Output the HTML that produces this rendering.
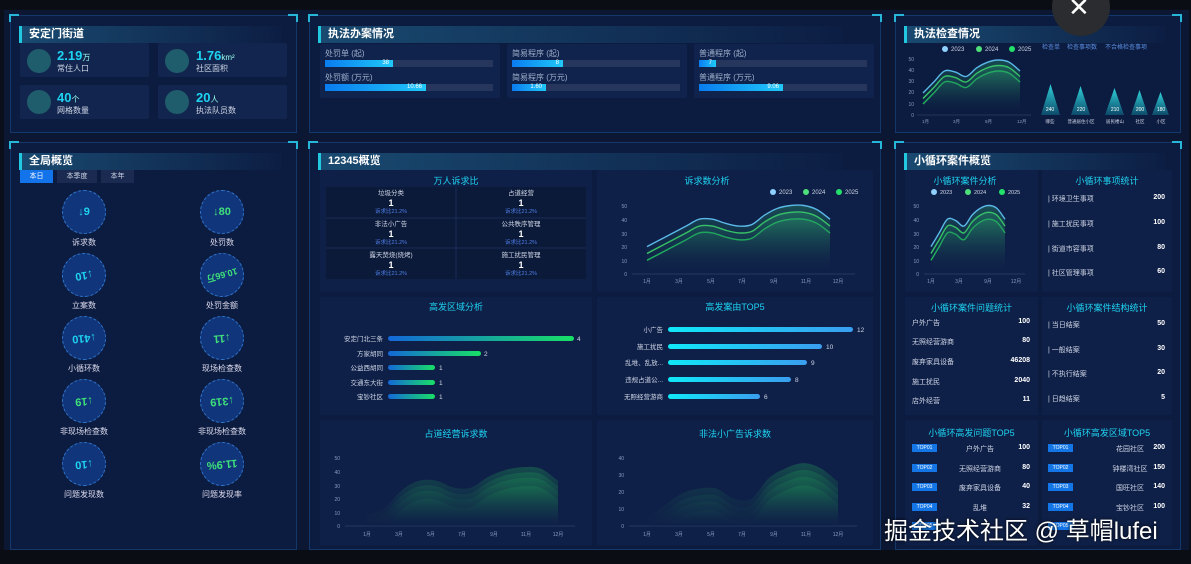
<!DOCTYPE html>
<html><head><meta charset="utf-8">
<style>
*{margin:0;padding:0;box-sizing:border-box}
body{width:1191px;height:564px;background:#0a0f1a;font-family:"Liberation Sans","Noto Sans CJK SC",sans-serif;color:#cfd8e8;position:relative;overflow:hidden;font-size:8px}
.abs{position:absolute}
.wrap{position:absolute;left:4px;top:10px;width:1185px;height:540px;background:#0b1733}
.panel{position:absolute;background:#0c1b40;border:1px solid #15386c}
.panel:before,.panel:after{content:"";position:absolute;top:-2px;width:8px;height:6px;border-top:2px solid #27b6d8}
.panel:before{left:-2px;border-left:2px solid #27b6d8}
.panel:after{right:-2px;border-right:2px solid #27b6d8}
.title{position:absolute;left:8px;top:10px;height:17px;width:92%;background:linear-gradient(90deg,rgba(38,120,160,.5),rgba(20,60,110,.08));border-left:3px solid #22c8e0;color:#fff;font-weight:bold;font-size:11px;line-height:17px;padding-left:7px}
.card{position:absolute;background:#12254e;border-radius:2px}
.sub{position:absolute;background:#0f2048}
.cir{position:absolute;border-radius:50%;background:#1f5d6c}
.val{position:absolute;color:#1ed3f2;font-weight:bold;font-size:13px}
.val small{font-size:8px;color:#9fe;font-weight:normal}
.lab{position:absolute;color:#cfd6e6;font-size:8px}
.track{position:absolute;height:7px;background:#26365c}
.fill{position:absolute;height:7px;background:linear-gradient(90deg,#0a7cf0,#20c8f8);color:#fff;font-size:6px;text-align:right;padding-right:4px;line-height:7px}
.st{position:absolute;color:#1ed3f2;font-size:9px;text-align:center}
.tab{position:absolute;top:170px;height:13px;font-size:7px;line-height:13px;text-align:center;color:#cfd6e6;background:#1a2a50}
.bub{position:absolute;width:44px;height:44px;border-radius:50%;background:#11357a;border:1px dashed #2f74c8;color:#1ed3f2;font-weight:bold;font-size:11px;text-align:center;line-height:42px}
.bl{position:absolute;width:100px;text-align:center;font-size:8px;color:#dde}
.row{position:absolute;font-size:7px;color:#cfd6e6}
.rv{position:absolute;font-size:7px;color:#fff;font-weight:bold;text-align:right;width:40px}
.badge{position:absolute;width:25px;height:8px;background:#1476e6;color:#fff;font-size:5px;line-height:8px;text-align:center}
svg text{font-family:"Liberation Sans","Noto Sans CJK SC",sans-serif}
</style></head><body>
<div class="wrap"></div>

<!-- Panel 1 -->
<div class="panel" style="left:10px;top:15px;width:287px;height:118px"><div class="title">安定门街道</div></div>
<div class="card" style="left:20px;top:43px;width:129px;height:34px"></div>
<div class="card" style="left:158px;top:43px;width:129px;height:34px"></div>
<div class="card" style="left:20px;top:85px;width:129px;height:34px"></div>
<div class="card" style="left:158px;top:85px;width:129px;height:34px"></div>
<div class="cir" style="left:27px;top:49px;width:24px;height:24px"></div>
<div class="cir" style="left:165px;top:49px;width:24px;height:24px"></div>
<div class="cir" style="left:27px;top:90px;width:24px;height:24px"></div>
<div class="cir" style="left:165px;top:90px;width:24px;height:24px"></div>
<div class="val" style="left:57px;top:48px">2.19<small>万</small></div><div class="lab" style="left:57px;top:63px">常住人口</div>
<div class="val" style="left:196px;top:48px">1.76<small>km²</small></div><div class="lab" style="left:196px;top:63px">社区面积</div>
<div class="val" style="left:57px;top:90px">40<small>个</small></div><div class="lab" style="left:57px;top:105px">网格数量</div>
<div class="val" style="left:196px;top:90px">20<small>人</small></div><div class="lab" style="left:196px;top:105px">执法队员数</div>

<!-- Panel 2 -->
<div class="panel" style="left:309px;top:15px;width:572px;height:118px"><div class="title">执法办案情况</div></div>
<div class="card" style="left:320px;top:44px;width:180px;height:54px;background:#10234c"></div>
<div class="card" style="left:507px;top:44px;width:180px;height:54px;background:#10234c"></div>
<div class="card" style="left:694px;top:44px;width:180px;height:54px;background:#10234c"></div>
<div class="lab" style="left:325px;top:48px;color:#9fb0cc">处罚单 (起)</div><div class="track" style="left:325px;top:60px;width:168px"></div><div class="fill" style="left:325px;top:60px;width:68px">38</div>
<div class="lab" style="left:325px;top:72px;color:#9fb0cc">处罚额 (万元)</div><div class="track" style="left:325px;top:84px;width:168px"></div><div class="fill" style="left:325px;top:84px;width:101px">10.66</div>
<div class="lab" style="left:512px;top:48px;color:#9fb0cc">简易程序 (起)</div><div class="track" style="left:512px;top:60px;width:168px"></div><div class="fill" style="left:512px;top:60px;width:51px">8</div>
<div class="lab" style="left:512px;top:72px;color:#9fb0cc">简易程序 (万元)</div><div class="track" style="left:512px;top:84px;width:168px"></div><div class="fill" style="left:512px;top:84px;width:34px">1.60</div>
<div class="lab" style="left:699px;top:48px;color:#9fb0cc">普通程序 (起)</div><div class="track" style="left:699px;top:60px;width:168px"></div><div class="fill" style="left:699px;top:60px;width:17px">7</div>
<div class="lab" style="left:699px;top:72px;color:#9fb0cc">普通程序 (万元)</div><div class="track" style="left:699px;top:84px;width:168px"></div><div class="fill" style="left:699px;top:84px;width:84px">9.06</div>

<!-- Panel 3 -->
<div class="panel" style="left:895px;top:15px;width:286px;height:118px"><div class="title">执法检查情况</div></div>
<svg class="abs" style="left:895px;top:40px" width="286" height="90" id="c1">
<g font-size="6" fill="#cfd6e6"><circle cx="50" cy="9" r="3" fill="#8fd0ff"/><text x="56" y="11">2023</text><circle cx="84" cy="9" r="3" fill="#4ee07a"/><text x="90" y="11">2024</text><circle cx="117" cy="9" r="3" fill="#22e06a"/><text x="123" y="11">2025</text>
<text x="147" y="9" fill="#5a8fe0">检查单</text><text x="172" y="9" fill="#5a8fe0">检查事项数</text><text x="210" y="9" fill="#5a8fe0">不合格检查事项</text></g>
<g font-size="5" fill="#8a9ac0" text-anchor="end"><text x="19" y="21">50</text><text x="19" y="32">40</text><text x="19" y="43">30</text><text x="19" y="54">20</text><text x="19" y="66">10</text><text x="19" y="77">0</text></g>
<line x1="22" y1="75" x2="136" y2="75" stroke="#34507a" stroke-width=".6"/>
<g font-size="4.5" fill="#8a9ac0"><text x="27" y="83">1月</text><text x="58" y="83">3月</text><text x="90" y="83">9月</text><text x="122" y="83">12月</text></g>
<g font-size="5" fill="#fff" text-anchor="middle">
<polygon points="146,75 165,75 155.5,44" fill="url(#pg)"/><text x="155" y="71">240</text>
<polygon points="176,75 195,75 185.5,46" fill="url(#pg)"/><text x="186" y="71">220</text>
<polygon points="210,75 229,75 219.5,48" fill="url(#pg)"/><text x="220" y="71">210</text>
<polygon points="236,75 253,75 244.5,50" fill="url(#pg)"/><text x="245" y="71">200</text>
<polygon points="257,75 274,75 265.5,52" fill="url(#pg)"/><text x="266" y="71">180</text>
<g font-size="4.5" fill="#cfd6e6"><text x="155" y="83">哪些</text><text x="186" y="83">普通居住小区</text><text x="220" y="83">居民楼山</text><text x="245" y="83">社区</text><text x="266" y="83">小区</text></g></g>
<defs><linearGradient id="pg" x1="0" y1="0" x2="0" y2="1"><stop offset="0" stop-color="#2fd0d8"/><stop offset="1" stop-color="#0d4a6a"/></linearGradient>
<linearGradient id="ag" x1="0" y1="0" x2="0" y2="1"><stop offset="0" stop-color="#2a9a6a" stop-opacity=".85"/><stop offset="1" stop-color="#0c1c42" stop-opacity="0"/></linearGradient></defs>
</svg>

<!-- Left bottom -->
<div class="panel" style="left:10px;top:142px;width:287px;height:408px"><div class="title">全局概览</div></div>
<div class="tab" style="left:20px;width:33px;background:#1273ea;color:#fff">本日</div>
<div class="tab" style="left:57px;width:40px">本季度</div>
<div class="tab" style="left:101px;width:33px">本年</div>
<div class="bub" style="left:62px;top:190px">↓9</div><div class="bl" style="left:34px;top:237px">诉求数</div>
<div class="bub" style="left:200px;top:190px;color:#3fe07a">↓80</div><div class="bl" style="left:172px;top:237px">处罚数</div>
<div class="bub" style="left:62px;top:253px;transform:rotate(170deg)">↓10</div><div class="bl" style="left:34px;top:300px">立案数</div>
<div class="bub" style="left:200px;top:253px;color:#3fe07a;font-size:9px;transform:rotate(165deg)">10.66万</div><div class="bl" style="left:172px;top:300px">处罚金额</div>
<div class="bub" style="left:62px;top:316px;transform:rotate(175deg)">↓410</div><div class="bl" style="left:34px;top:363px">小循环数</div>
<div class="bub" style="left:200px;top:316px;color:#3fe07a;transform:rotate(175deg)">↓11</div><div class="bl" style="left:172px;top:363px">现场检查数</div>
<div class="bub" style="left:62px;top:379px;color:#3fe07a;transform:rotate(175deg)">↓19</div><div class="bl" style="left:34px;top:426px">非现场检查数</div>
<div class="bub" style="left:200px;top:379px;color:#3fe07a;transform:rotate(175deg)">↓319</div><div class="bl" style="left:172px;top:426px">非现场检查数</div>
<div class="bub" style="left:62px;top:442px;transform:rotate(175deg)">↓10</div><div class="bl" style="left:34px;top:489px">问题发现数</div>
<div class="bub" style="left:200px;top:442px;color:#3fe07a;transform:rotate(175deg)">11.9%</div><div class="bl" style="left:172px;top:489px">问题发现率</div>

<!-- Middle bottom -->
<div class="panel" style="left:309px;top:142px;width:572px;height:408px"><div class="title">12345概览</div></div>
<div class="sub" style="left:320px;top:170px;width:272px;height:122px"></div>
<div class="sub" style="left:597px;top:170px;width:276px;height:122px"></div>
<div class="sub" style="left:320px;top:297px;width:272px;height:118px"></div>
<div class="sub" style="left:597px;top:297px;width:276px;height:118px"></div>
<div class="sub" style="left:320px;top:420px;width:272px;height:125px"></div>
<div class="sub" style="left:597px;top:420px;width:276px;height:125px"></div>
<div class="st" style="left:320px;top:174px;width:272px">万人诉求比</div>
<div class="abs" style="left:326px;top:187px;width:260px;height:92px;background:#0c1a3a"></div>
<svg class="abs" style="left:326px;top:187px" width="260" height="92">
<g stroke="#1a2c55" stroke-width="1"><line x1="130" y1="0" x2="130" y2="92"/><line x1="0" y1="31" x2="260" y2="31"/><line x1="0" y1="61" x2="260" y2="61"/></g>
<g text-anchor="middle" font-size="6.5" fill="#cfd6e6">
<text x="65" y="8">垃圾分类</text><text x="195" y="8">占道经营</text>
<text x="65" y="39">非法小广告</text><text x="195" y="39">公共秩序管理</text>
<text x="65" y="70">露天焚烧(烧烤)</text><text x="195" y="70">施工扰民管理</text></g>
<g text-anchor="middle" font-size="9" font-weight="bold" fill="#fff">
<text x="65" y="19">1</text><text x="195" y="19">1</text><text x="65" y="50">1</text><text x="195" y="50">1</text><text x="65" y="81">1</text><text x="195" y="81">1</text></g>
<g text-anchor="middle" font-size="5.5" fill="#4e7fe8">
<text x="65" y="26">诉求比21.2%</text><text x="195" y="26">诉求比21.2%</text><text x="65" y="57">诉求比21.2%</text><text x="195" y="57">诉求比21.2%</text><text x="65" y="88">诉求比21.2%</text><text x="195" y="88">诉求比21.2%</text></g>
</svg>
<div class="st" style="left:597px;top:174px;width:220px">诉求数分析</div>
<svg class="abs" style="left:600px;top:185px" width="270" height="100" id="c2">
<g font-size="6" fill="#cfd6e6"><circle cx="173" cy="7" r="3" fill="#8fd0ff"/><text x="179" y="9">2023</text><circle cx="206" cy="7" r="3" fill="#4ee07a"/><text x="212" y="9">2024</text><circle cx="239" cy="7" r="3" fill="#22e06a"/><text x="245" y="9">2025</text></g>
<g font-size="5" fill="#8a9ac0" text-anchor="end"><text x="27" y="23">50</text><text x="27" y="37">40</text><text x="27" y="51">30</text><text x="27" y="64">20</text><text x="27" y="78">10</text><text x="27" y="91">0</text></g>
<line x1="32" y1="89" x2="255" y2="89" stroke="#34507a" stroke-width=".6"/>
<g font-size="5" fill="#8a9ac0" text-anchor="middle"><text x="47" y="98">1月</text><text x="79" y="98">3月</text><text x="111" y="98">5月</text><text x="142" y="98">7月</text><text x="174" y="98">9月</text><text x="206" y="98">11月</text><text x="238" y="98">12月</text></g>
</svg>
<div class="st" style="left:320px;top:300px;width:272px">高发区域分析</div>
<svg class="abs" style="left:320px;top:320px" width="272" height="95">
<defs><linearGradient id="bg1" x1="0" x2="1"><stop offset="0" stop-color="#1468d8"/><stop offset="1" stop-color="#18e066"/></linearGradient></defs>
<g font-size="6.5" fill="#cfd6e6" text-anchor="end"><text x="63" y="21">安定门北三条</text><text x="63" y="36">方家胡同</text><text x="63" y="50">公益西胡同</text><text x="63" y="65">交通东大街</text><text x="63" y="79">宝钞社区</text></g>
<rect x="68" y="16" width="186" height="5" rx="2.5" fill="url(#bg1)"/>
<rect x="68" y="31" width="93" height="5" rx="2.5" fill="url(#bg1)"/>
<rect x="68" y="45" width="47" height="5" rx="2.5" fill="url(#bg1)"/>
<rect x="68" y="60" width="47" height="5" rx="2.5" fill="url(#bg1)"/>
<rect x="68" y="74" width="47" height="5" rx="2.5" fill="url(#bg1)"/>
<g font-size="6.5" fill="#cfd6e6"><text x="257" y="21">4</text><text x="164" y="36">2</text><text x="119" y="50">1</text><text x="119" y="65">1</text><text x="119" y="79">1</text></g>
</svg>
<div class="st" style="left:597px;top:300px;width:276px">高发案由TOP5</div>
<svg class="abs" style="left:597px;top:320px" width="276" height="95">
<defs><linearGradient id="bg2" x1="0" x2="1"><stop offset="0" stop-color="#10e8f8"/><stop offset="1" stop-color="#3a9ef0"/></linearGradient></defs>
<g font-size="6.5" fill="#cfd6e6" text-anchor="end"><text x="66" y="12">小广告</text><text x="66" y="29">施工扰民</text><text x="66" y="45">乱堆、乱放...</text><text x="66" y="62">违规占道公...</text><text x="66" y="79">无照经营游商</text></g>
<rect x="71" y="7" width="185" height="5" rx="2.5" fill="url(#bg2)"/>
<rect x="71" y="24" width="154" height="5" rx="2.5" fill="url(#bg2)"/>
<rect x="71" y="40" width="139" height="5" rx="2.5" fill="url(#bg2)"/>
<rect x="71" y="57" width="123" height="5" rx="2.5" fill="url(#bg2)"/>
<rect x="71" y="74" width="92" height="5" rx="2.5" fill="url(#bg2)"/>
<g font-size="6.5" fill="#cfd6e6"><text x="260" y="12">12</text><text x="229" y="29">10</text><text x="214" y="45">9</text><text x="198" y="62">8</text><text x="167" y="79">6</text></g>
</svg>
<div class="st" style="left:320px;top:427px;width:272px">占道经营诉求数</div>
<svg class="abs" style="left:320px;top:440px" width="272" height="105" id="c3">
<defs><linearGradient id="dg" x1="0" y1="0" x2="0" y2="1"><stop offset="0" stop-color="#1a7a50" stop-opacity=".9"/><stop offset="1" stop-color="#0f2048" stop-opacity=".2"/></linearGradient></defs>
<g font-size="5" fill="#8a9ac0" text-anchor="end"><text x="20" y="20">50</text><text x="20" y="34">40</text><text x="20" y="48">30</text><text x="20" y="61">20</text><text x="20" y="75">10</text><text x="20" y="88">0</text></g>
<line x1="25" y1="86" x2="255" y2="86" stroke="#34507a" stroke-width=".6"/>
<g font-size="5" fill="#8a9ac0" text-anchor="middle"><text x="47" y="96">1月</text><text x="79" y="96">3月</text><text x="111" y="96">5月</text><text x="142" y="96">7月</text><text x="174" y="96">9月</text><text x="206" y="96">11月</text><text x="238" y="96">12月</text></g>
</svg>
<div class="st" style="left:597px;top:427px;width:276px">非法小广告诉求数</div>
<svg class="abs" style="left:597px;top:440px" width="276" height="105" id="c4">
<g font-size="5" fill="#8a9ac0" text-anchor="end"><text x="27" y="20">40</text><text x="27" y="37">30</text><text x="27" y="54">20</text><text x="27" y="71">10</text><text x="27" y="88">0</text></g>
<line x1="32" y1="86" x2="260" y2="86" stroke="#34507a" stroke-width=".6"/>
<g font-size="5" fill="#8a9ac0" text-anchor="middle"><text x="50" y="96">1月</text><text x="82" y="96">3月</text><text x="114" y="96">5月</text><text x="145" y="96">7月</text><text x="177" y="96">9月</text><text x="209" y="96">11月</text><text x="241" y="96">12月</text></g>
</svg>

<!-- Right bottom -->
<div class="panel" style="left:895px;top:142px;width:286px;height:408px"><div class="title">小循环案件概览</div></div>
<div class="sub" style="left:905px;top:170px;width:133px;height:122px"></div>
<div class="sub" style="left:1042px;top:170px;width:130px;height:122px"></div>
<div class="sub" style="left:905px;top:297px;width:133px;height:118px"></div>
<div class="sub" style="left:1042px;top:297px;width:130px;height:118px"></div>
<div class="sub" style="left:905px;top:420px;width:133px;height:125px"></div>
<div class="sub" style="left:1042px;top:420px;width:130px;height:125px"></div>
<div class="st" style="left:905px;top:174px;width:120px">小循环案件分析</div>
<svg class="abs" style="left:900px;top:185px" width="140" height="100" id="c5">
<g font-size="5.5" fill="#cfd6e6"><circle cx="34" cy="7" r="3" fill="#8fd0ff"/><text x="40" y="9">2023</text><circle cx="68" cy="7" r="3" fill="#4ee07a"/><text x="74" y="9">2024</text><circle cx="102" cy="7" r="3" fill="#22e06a"/><text x="108" y="9">2025</text></g>
<g font-size="5" fill="#8a9ac0" text-anchor="end"><text x="19" y="23">50</text><text x="19" y="37">40</text><text x="19" y="51">30</text><text x="19" y="64">20</text><text x="19" y="78">10</text><text x="19" y="91">0</text></g>
<line x1="24" y1="89" x2="125" y2="89" stroke="#34507a" stroke-width=".6"/>
<g font-size="5" fill="#8a9ac0" text-anchor="middle"><text x="31" y="98">1月</text><text x="59" y="98">3月</text><text x="88" y="98">9月</text><text x="116" y="98">12月</text></g>
</svg>
<div class="st" style="left:1042px;top:174px;width:130px">小循环事项统计</div>
<div class="row" style="left:1048px;top:194px">| 环境卫生事项</div><div class="rv" style="left:1125px;top:194px">200</div>
<div class="row" style="left:1048px;top:219px">| 施工扰民事项</div><div class="rv" style="left:1125px;top:219px">100</div>
<div class="row" style="left:1048px;top:244px">| 街道市容事项</div><div class="rv" style="left:1125px;top:244px">80</div>
<div class="row" style="left:1048px;top:268px">| 社区管理事项</div><div class="rv" style="left:1125px;top:268px">60</div>
<div class="st" style="left:905px;top:301px;width:133px">小循环案件问题统计</div>
<div class="row" style="left:912px;top:318px">户外广告</div><div class="rv" style="left:990px;top:318px">100</div>
<div class="row" style="left:912px;top:337px">无照经营游商</div><div class="rv" style="left:990px;top:337px">80</div>
<div class="row" style="left:912px;top:357px">废弃家具设备</div><div class="rv" style="left:990px;top:357px">46208</div>
<div class="row" style="left:912px;top:377px">施工扰民</div><div class="rv" style="left:990px;top:377px">2040</div>
<div class="row" style="left:912px;top:396px">店外经营</div><div class="rv" style="left:990px;top:396px">11</div>
<div class="st" style="left:1042px;top:301px;width:130px">小循环案件结构统计</div>
<div class="row" style="left:1048px;top:320px">| 当日结案</div><div class="rv" style="left:1125px;top:320px">50</div>
<div class="row" style="left:1048px;top:345px">| 一般结案</div><div class="rv" style="left:1125px;top:345px">30</div>
<div class="row" style="left:1048px;top:369px">| 不执行结案</div><div class="rv" style="left:1125px;top:369px">20</div>
<div class="row" style="left:1048px;top:394px">| 日趋结案</div><div class="rv" style="left:1125px;top:394px">5</div>
<div class="st" style="left:905px;top:426px;width:133px">小循环高发问题TOP5</div>
<div class="st" style="left:1042px;top:426px;width:130px">小循环高发区域TOP5</div>
<div class="badge" style="left:912px;top:444px">TOP01</div><div class="row" style="left:955px;top:444px;width:50px;text-align:center">户外广告</div><div class="rv" style="left:990px;top:444px">100</div>
<div class="badge" style="left:912px;top:464px">TOP02</div><div class="row" style="left:955px;top:464px;width:50px;text-align:center">无照经营游商</div><div class="rv" style="left:990px;top:464px">80</div>
<div class="badge" style="left:912px;top:483px">TOP03</div><div class="row" style="left:955px;top:483px;width:50px;text-align:center">废弃家具设备</div><div class="rv" style="left:990px;top:483px">40</div>
<div class="badge" style="left:912px;top:503px">TOP04</div><div class="row" style="left:955px;top:503px;width:50px;text-align:center">乱堆</div><div class="rv" style="left:990px;top:503px">32</div>
<div class="badge" style="left:912px;top:522px">TOP05</div>
<div class="badge" style="left:1048px;top:444px">TOP01</div><div class="row" style="left:1105px;top:444px;width:50px;text-align:center">花园社区</div><div class="rv" style="left:1125px;top:444px">200</div>
<div class="badge" style="left:1048px;top:464px">TOP02</div><div class="row" style="left:1105px;top:464px;width:50px;text-align:center">钟楼湾社区</div><div class="rv" style="left:1125px;top:464px">150</div>
<div class="badge" style="left:1048px;top:483px">TOP03</div><div class="row" style="left:1105px;top:483px;width:50px;text-align:center">国旺社区</div><div class="rv" style="left:1125px;top:483px">140</div>
<div class="badge" style="left:1048px;top:503px">TOP04</div><div class="row" style="left:1105px;top:503px;width:50px;text-align:center">宝钞社区</div><div class="rv" style="left:1125px;top:503px">100</div>
<div class="badge" style="left:1048px;top:522px">TOP05</div>

<div class="abs" style="left:0;top:550px;width:1191px;height:14px;background:#0a0d14"></div>
<div class="abs" style="left:0;top:0;width:1191px;height:9px;background:#0a0d14"></div>
<div class="abs" style="left:1052px;top:-22px;width:58px;height:58px;border-radius:50%;background:#2a2c30"></div>
<div class="abs" style="left:1068px;top:-6px;color:#fff;font-size:26px;line-height:26px">✕</div>
<div class="abs" style="left:884px;top:517px;color:#fff;font-size:24px;line-height:30px;text-shadow:0 0 3px #000">掘金技术社区 @ 草帽lufei</div>

<script>
function sm(pts){var d="M"+pts[0][0]+","+pts[0][1];for(var i=0;i<pts.length-1;i++){var p0=pts[i-1]||pts[i],p1=pts[i],p2=pts[i+1],p3=pts[i+2]||p2;d+=" C"+(p1[0]+(p2[0]-p0[0])/6)+","+(p1[1]+(p2[1]-p0[1])/6)+" "+(p2[0]-(p3[0]-p1[0])/6)+","+(p2[1]-(p3[1]-p1[1])/6)+" "+p2[0]+","+p2[1];}return d;}
function chart(id,x0,x1,yb,ky,data,lines,cols){var s=document.getElementById(id),ns="http://www.w3.org/2000/svg";
 data.forEach(function(a,k){var n=a.length,pts=a.map(function(v,i){return [x0+(x1-x0)*i/(n-1),yb-v*ky]});var d=sm(pts);
  var f=document.createElementNS(ns,"path");f.setAttribute("d",d+" L"+x1+","+yb+" L"+x0+","+yb+"Z");
  if(lines){f.setAttribute("fill","url(#ag)");f.setAttribute("opacity",".45");}else{f.setAttribute("fill",cols[k]);f.setAttribute("opacity",".55");}
  s.appendChild(f);
  if(lines){var l=document.createElementNS(ns,"path");l.setAttribute("d",d);l.setAttribute("fill","none");l.setAttribute("stroke",cols[k]);l.setAttribute("stroke-width","1.4");s.appendChild(l);}
 });}
var base=[10,15,20,25,30,30,27,25,26,33,38,40,40,37,30];
function add(a,c){return a.map(function(v){return v+c})}
var L=["#5ab8e8","#3fdc6a","#22d060"];
chart("c2",47,230,89,1.37,[add(base,10),add(base,5),base].reverse(),true,L.slice().reverse());
var b2=[10,20,30,29,25,33,38,40,38,30];
chart("c1",28,125,75,1.1,[add(b2,10),add(b2,5),b2].reverse(),true,L.slice().reverse());
chart("c5",31,105,89,1.37,[add(b2,10),add(b2,5),b2].reverse(),true,L.slice().reverse());
var a3=[0,5,18,25,25,20,20,28,33,35,34,25];
var G=["url(#dg)","url(#dg)","url(#dg)","url(#dg)"];
chart("c3",47,238,86,1.37,[add(a3,8),add(a3,4),a3,add(a3,-6)].map(function(a){return a.map(function(v){return Math.max(v,0)})}),false,G);
var a4=[0,8,15,18,18,12,12,24,30,33,30,22];
chart("c4",50,241,86,1.7,[add(a4,4),a4,add(a4,-4),add(a4,-9)].map(function(a){return a.map(function(v){return Math.max(v,0)})}),false,G);
</script>
</body></html>
